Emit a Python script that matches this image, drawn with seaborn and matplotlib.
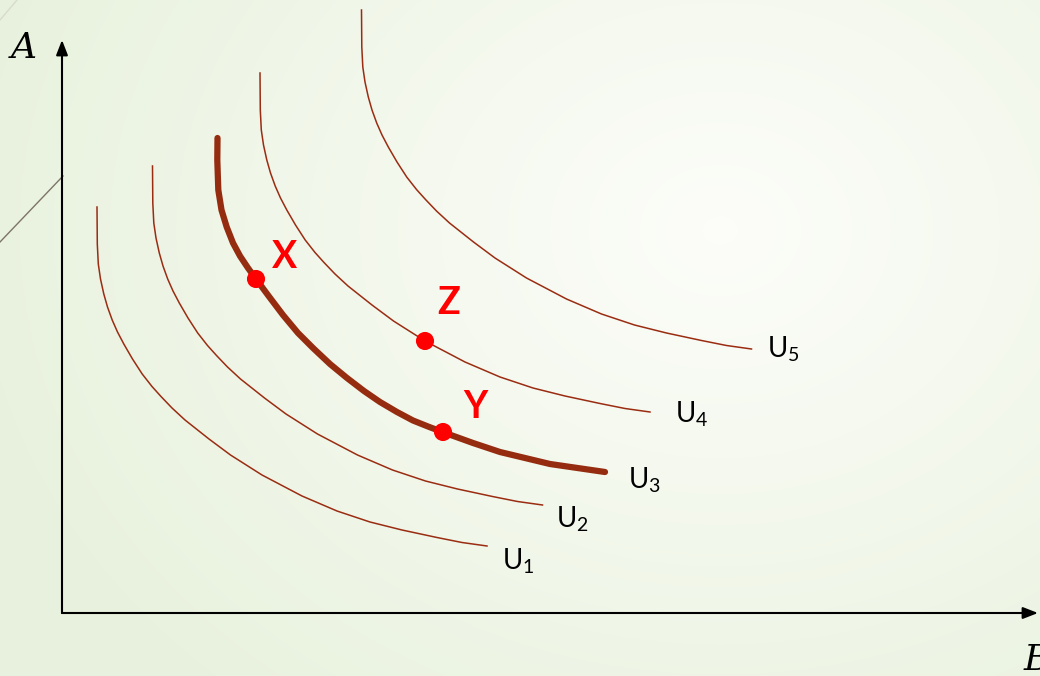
import numpy as np
import pandas as pd
import matplotlib
matplotlib.use("Agg")
import matplotlib.pyplot as plt
import seaborn as sns

# ---------------------------------------------
# indifference curves, values
# (B = distance right of origin, A = height above origin)
# ---------------------------------------------
u1_b = [35, 35.3, 36.3, 38.5, 41.8, 45.5, 50.2, 55.5, 61.8, 70.5, 80.2, 90, 99, 110, 123, 147, 168.5, 200, 240, 275, 308, 340, 375, 400, 425]
u1_a = [406, 369, 349, 334, 319, 306, 293, 281, 269, 254, 239, 226.5, 216.5, 205, 193, 174, 158, 138, 117, 102, 91, 83, 75.5, 70.5, 67]

u2_b = [90.5, 90.8, 91.8, 94, 97.3, 101, 105.7, 111, 117.3, 126, 135.7, 145.5, 154.5, 165.5, 178.5, 202.5, 224, 255.5, 295.5, 330.5, 363.5, 395.5, 430.5, 455.5, 480.5]
u2_a = [447, 410, 390, 375, 360, 347, 334, 322, 310, 295, 280, 267.5, 257.5, 246, 234, 215, 199, 179, 158, 143, 132, 124, 116.5, 111.5, 108]

u3_b = [155.5, 155.3, 156.3, 159.5, 164.7, 171, 178, 186, 194, 207, 221, 236, 251, 268, 285, 302, 318, 335, 351, 366, 381.3, 411, 438, 488, 543]
u3_a = [475, 453, 423, 403, 386, 370, 357, 345, 334, 316.5, 298, 280, 265, 249, 235, 222, 211, 201, 192.5, 186.5, 180.7, 170, 161, 149, 141]

u4_b = [198, 198.3, 199.3, 201.5, 204.8, 208.5, 213.2, 218.5, 224.8, 233.5, 243.2, 253, 262, 273, 286, 310, 331.5, 363, 403, 438, 471, 503, 538, 563, 588]
u4_a = [540, 503, 483, 468, 453, 440, 427, 415, 403, 388, 373, 360.5, 350.5, 339, 327, 308, 292, 272, 251, 236, 225, 217, 209.5, 204.5, 201]

u5_b = [299.5, 299.8, 300.8, 303, 306.3, 310, 314.7, 320, 326.3, 335, 344.7, 354.5, 363.5, 374.5, 387.5, 411.5, 433, 464.5, 504.5, 539.5, 572.5, 604.5, 639.5, 664.5, 689.5]
u5_a = [603, 566, 546, 531, 516, 503, 490, 478, 466, 451, 436, 423.5, 413.5, 402, 390, 371, 355, 335, 314, 299, 288, 280, 272.5, 267.5, 264]

curve_names = ["U1", "U2", "U3", "U4", "U5"]
label_b = [440, 494, 566, 613, 705]
label_a = [52, 94, 133, 199, 264]

point_names = ["X", "Y", "Z"]
point_b = [194, 381, 363]
point_a = [334, 181, 272]

# ---------------------------------------------
# long table for seaborn
# ---------------------------------------------
frames = []
for name, bs, as_ in zip(curve_names,
                         [u1_b, u2_b, u3_b, u4_b, u5_b],
                         [u1_a, u2_a, u3_a, u4_a, u5_a]):
    frames.append(pd.DataFrame({"B": bs, "A": as_, "curve": name}))
curves = pd.concat(frames, ignore_index=True)
points = pd.DataFrame({"B": point_b, "A": point_a, "name": point_names})

plt.rcParams["mathtext.fontset"] = "custom"
plt.rcParams["mathtext.rm"] = "Lato"
plt.rcParams["mathtext.it"] = "Lato:italic"

fig = plt.figure(figsize=(10.4, 6.76), dpi=100)
ax = fig.add_axes([0, 0, 1, 1])
x_lim = (-62, 978)
y_lim = (-63, 613)

# slide background: soft green, lighter toward the middle right
yy, xx = np.mgrid[0:676, 0:1040]
dist = np.sqrt(((xx - 720) / 760.0) ** 2 + ((yy - 230) / 620.0) ** 2)
t = np.clip(dist, 0, 1)[..., None]
inner = np.array([0.990, 0.993, 0.978])
outer = np.array([0.912, 0.948, 0.870])
bg = inner * (1 - t) + outer * t
ax.imshow(bg, extent=(*x_lim, *y_lim), aspect="auto", zorder=0)

# decorative slide lines at the left edge
ax.plot([-62, 1], [371, 437], color="#7d7566", lw=1.0, zorder=1)
ax.plot([-62, -45], [593, 613], color="#d8dccc", lw=1.0, zorder=1)

# axes with arrow heads
arrow = dict(arrowstyle="-|>,head_length=0.9,head_width=0.35", color="black", lw=1.5,
             shrinkA=0, shrinkB=0)
ax.annotate("", xy=(0, 573), xytext=(0, 0), arrowprops=arrow, zorder=2)
ax.annotate("", xy=(976, 0), xytext=(0, 0), arrowprops=arrow, zorder=2)
ax.text(-38, 565, "A", fontsize=26, style="italic", family="DejaVu Serif",
        ha="center", va="center")
ax.text(975, -47, "B", fontsize=26, style="italic", family="DejaVu Serif",
        ha="center", va="center", clip_on=False)

line_color = "#9a2c12"
thin = curves[curves["curve"] != "U3"]
sns.lineplot(data=thin, x="B", y="A", units="curve", estimator=None, sort=False,
             color=line_color, lw=1.1, ax=ax, zorder=3)
sns.lineplot(data=curves[curves["curve"] == "U3"], x="B", y="A", estimator=None, sort=False,
             color="#952c10", lw=4.5, ax=ax, zorder=3, solid_capstyle="round",
             solid_joinstyle="round")

for name, b, a in zip(curve_names, label_b, label_a):
    ax.text(b, a, "U$_{%s}$" % name[1], fontsize=20, family="Lato", color="black",
            ha="left", va="center")

sns.scatterplot(data=points, x="B", y="A", color="#ff0000", s=170, edgecolor="none",
                ax=ax, zorder=4)
label_off = {"X": (28, 22), "Y": (32, 25), "Z": (24, 38)}
for _, row in points.iterrows():
    dx, dy = label_off[row["name"]]
    ax.text(row["B"] + dx, row["A"] + dy, row["name"], fontsize=27, fontweight="bold",
            family="Lato", color="#ff0000", ha="center", va="center")

ax.set_xlim(*x_lim)
ax.set_ylim(*y_lim)
ax.axis("off")
fig.savefig("out.png", dpi=100)
